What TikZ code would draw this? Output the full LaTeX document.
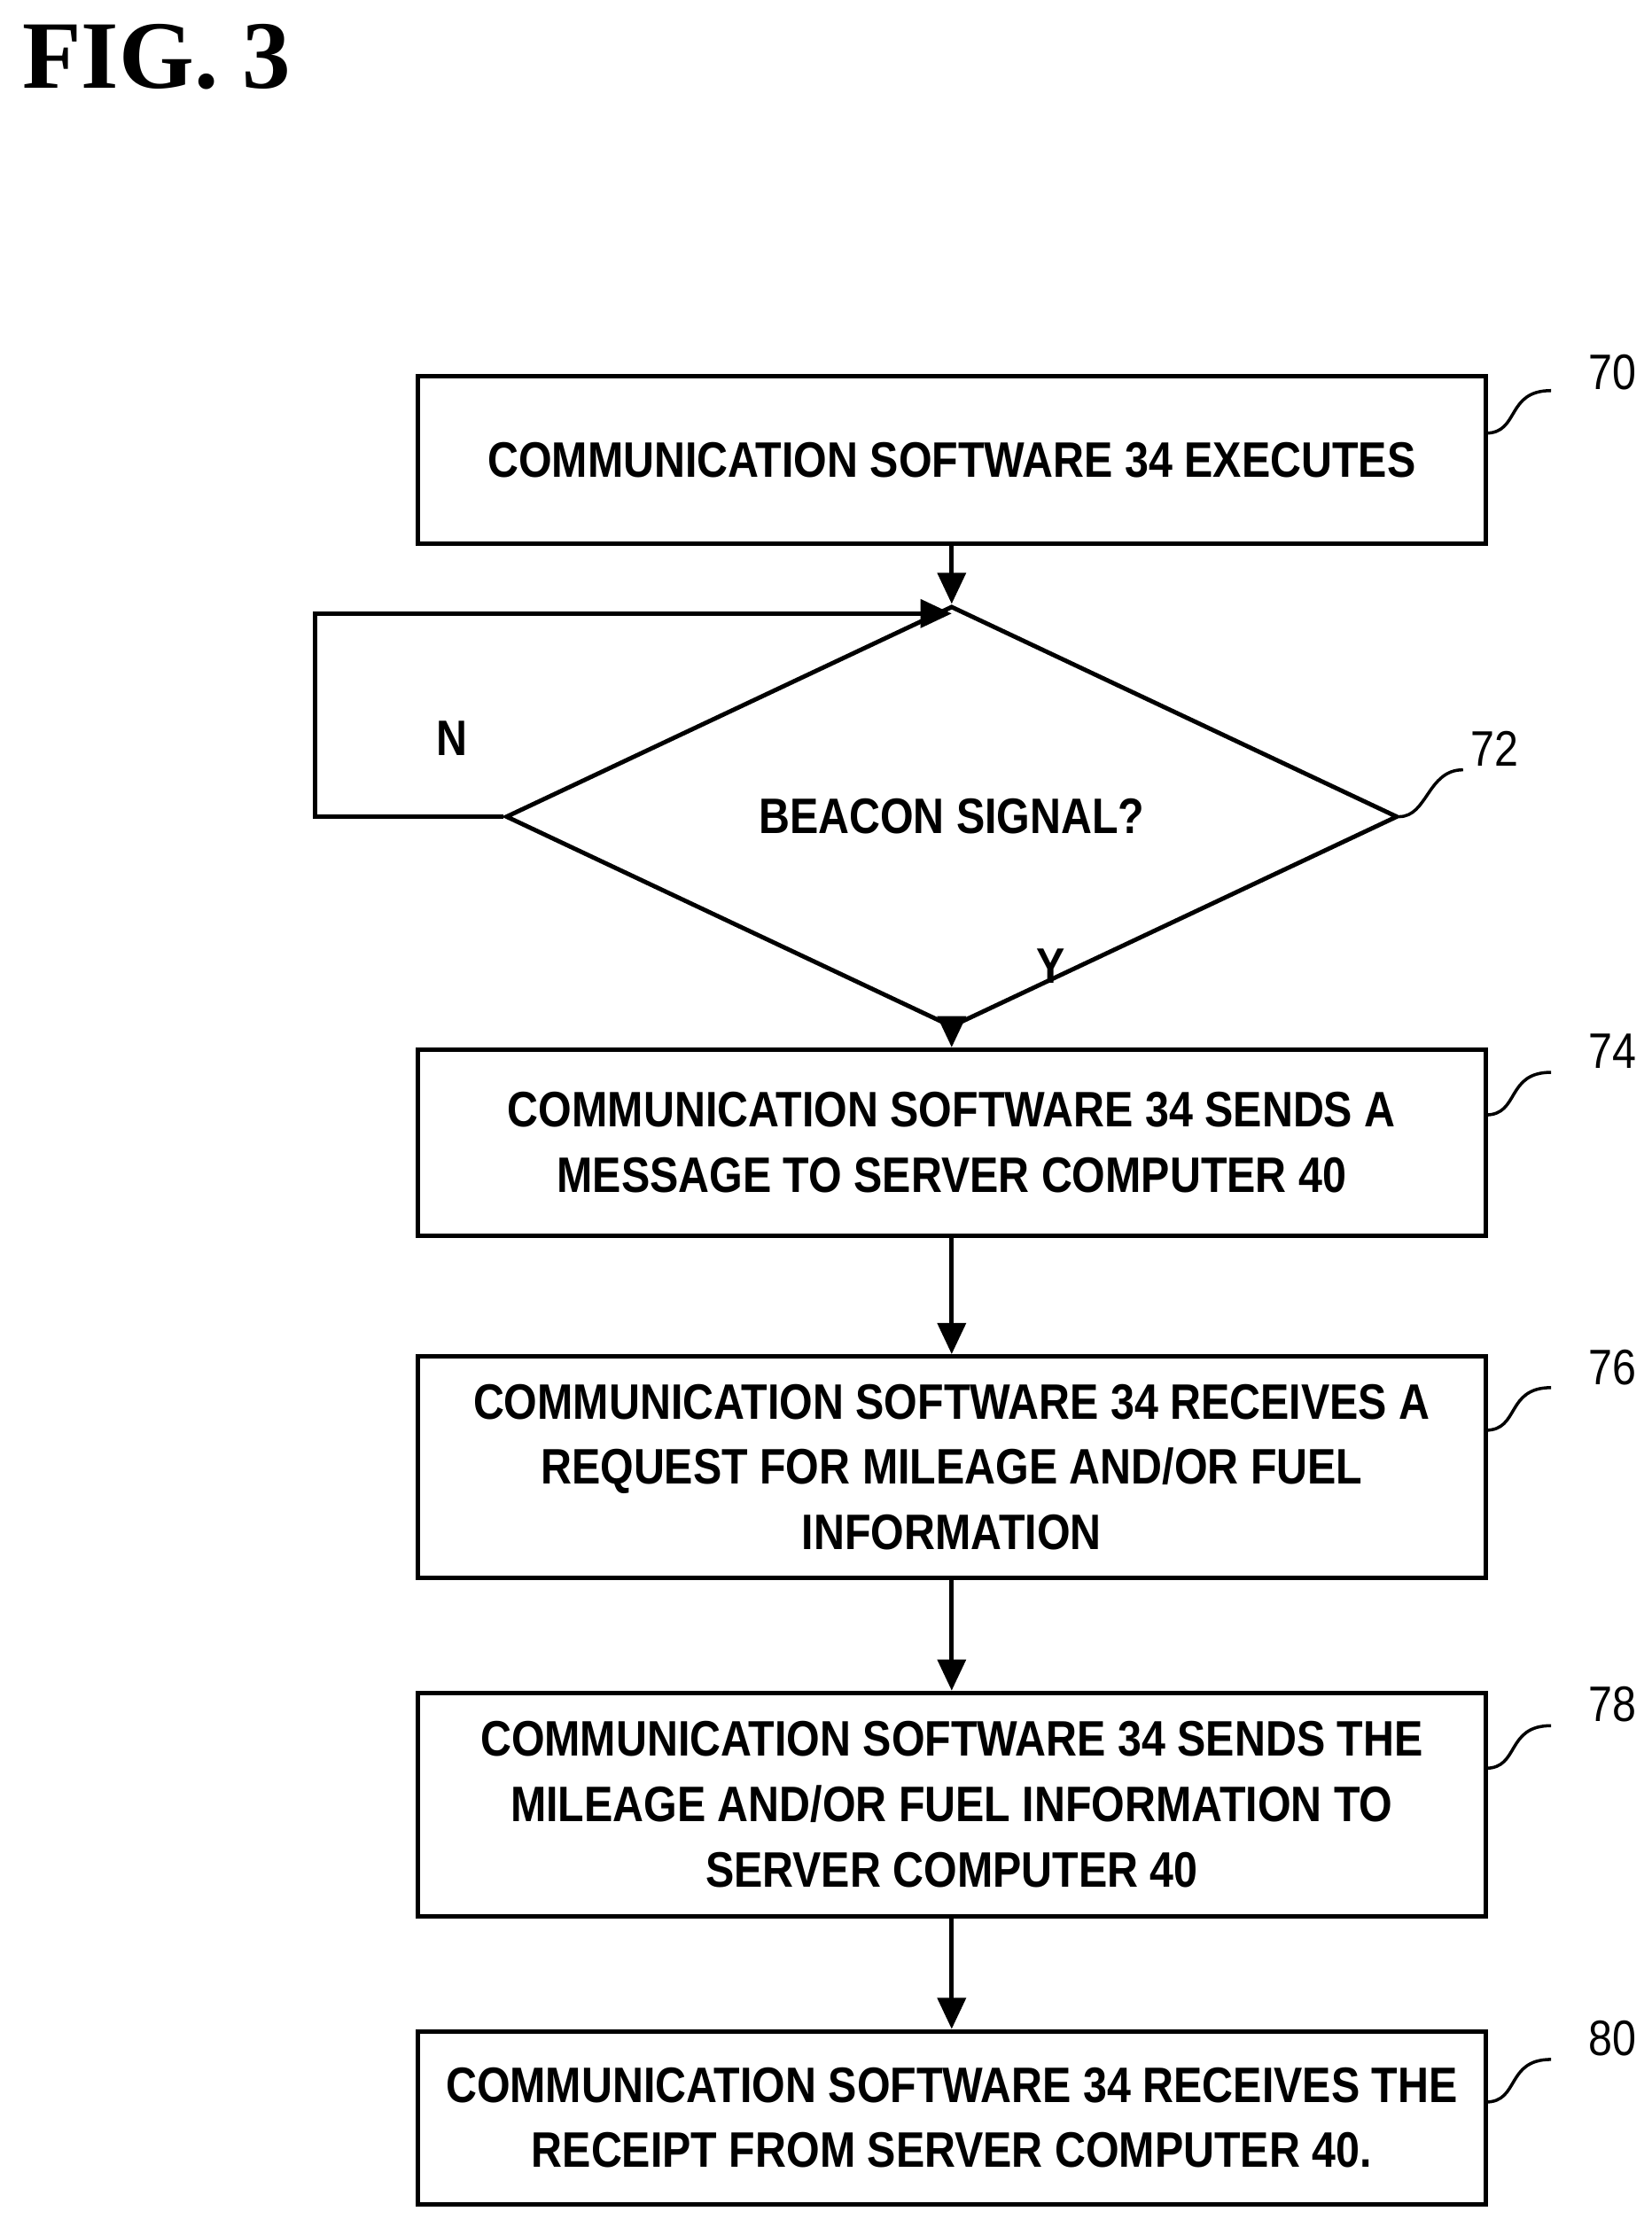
\documentclass[tikz,border=0pt]{standalone}
\usepackage{fontspec}
\setmainfont{Liberation Serif}
\setsansfont{Liberation Sans}[FakeStretch=0.86]
\usetikzlibrary{shapes.geometric,arrows.meta}
\tikzset{
    process/.style={
    rectangle,draw=black,line width=1.4pt,minimum width=12.05cm,align=center,
    font=\sffamily\bfseries\fontsize{16}{21}\selectfont
    },
    test/.style={
    diamond,draw=black,line width=1.4pt,minimum width=10.06cm,minimum height=1.97cm,
    inner sep=0pt,font=\sffamily\bfseries\fontsize{16}{21}\selectfont
    },
    flow/.style={
    line width=1.4pt,-{Triangle[length=10pt,width=9pt]}
    },
    refnum/.style={
    font=\sffamily\fontsize{16}{20}\selectfont
    },
    lead/.style={
    line width=1pt
    },
}
\begin{document}
\begin{tikzpicture}[x=0.01602cm,y=-0.01602cm]
  \useasboundingbox (0,0) rectangle (1163,1568);
  \node[anchor=west,font=\rmfamily\bfseries\fontsize{31}{36}\selectfont] (fig) at (8,40) {FIG. 3};

  \node[process,minimum height=1.89cm] (s70) at (670,324) {COMMUNICATION SOFTWARE 34 EXECUTES};
  \node[test] (s72) at (670,575) {BEACON SIGNAL?};
  \node[process,minimum height=2.10cm] (s74) at (670,804.5) {COMMUNICATION SOFTWARE 34 SENDS A\\MESSAGE TO SERVER COMPUTER 40};
  \node[process,minimum height=2.50cm] (s76) at (670,1033) {COMMUNICATION SOFTWARE 34 RECEIVES A\\REQUEST FOR MILEAGE AND/OR FUEL\\INFORMATION};
  \node[process,minimum height=2.52cm] (s78) at (670,1270.5) {COMMUNICATION SOFTWARE 34 SENDS THE\\MILEAGE AND/OR FUEL INFORMATION TO\\SERVER COMPUTER 40};
  \node[process,minimum height=1.95cm] (s80) at (670,1491) {COMMUNICATION SOFTWARE 34 RECEIVES THE\\RECEIPT FROM SERVER COMPUTER 40.};

  \coordinate (join) at (670,432);
  \coordinate (back) at (222,575);
  \draw[flow] (s70) -- (s72);
  \draw[flow] (s72.west) -- (back) |- (join);
  \draw[flow] (s72) -- (s74);
  \draw[flow] (s74) -- (s76);
  \draw[flow] (s76) -- (s78);
  \draw[flow] (s78) -- (s80);

  \node[refnum,font=\sffamily\bfseries\fontsize{16}{20}\selectfont] (n) at (318,520) {N};
  \node[refnum,font=\sffamily\bfseries\fontsize{16}{20}\selectfont] (y) at (740,680) {Y};

  % reference numerals
  \node[refnum] (r70) at (1135,262) {70};
  \node[refnum] (r72) at (1052,527) {72};
  \node[refnum] (r74) at (1135,740) {74};
  \node[refnum] (r76) at (1135,963) {76};
  \node[refnum] (r78) at (1135,1200) {78};
  \node[refnum] (r80) at (1135,1435) {80};
  \draw[lead] (1046,305) .. controls (1070,305) and (1060,275) .. (1092,275);
  \draw[lead] (985,575) .. controls (1005,575) and (1005,542) .. (1030,542);
  \draw[lead] (1046,785) .. controls (1070,785) and (1060,755) .. (1092,755);
  \draw[lead] (1046,1007) .. controls (1070,1007) and (1060,977) .. (1092,977);
  \draw[lead] (1046,1245) .. controls (1070,1245) and (1060,1215) .. (1092,1215);
  \draw[lead] (1046,1480) .. controls (1070,1480) and (1060,1450) .. (1092,1450);
\end{tikzpicture}
\end{document}
